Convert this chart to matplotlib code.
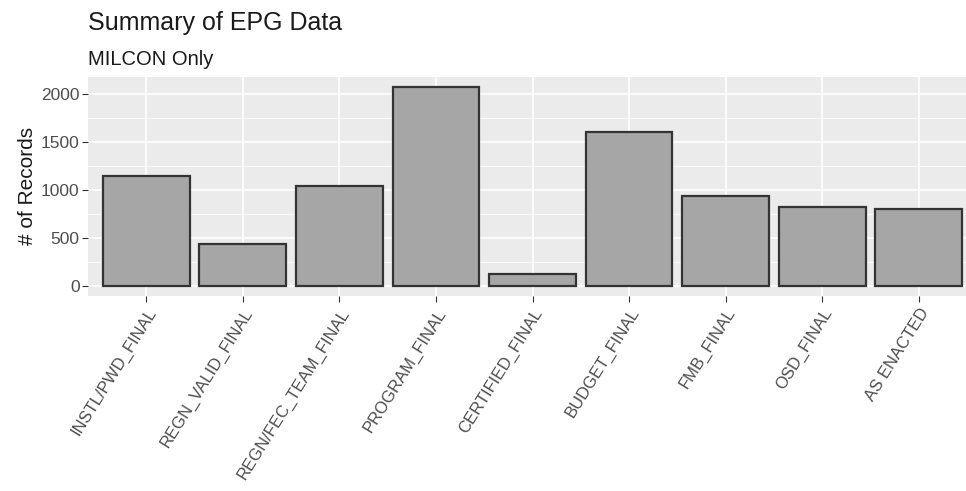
import numpy as np
import matplotlib
matplotlib.use("Agg")
import matplotlib.pyplot as plt
from matplotlib.ticker import MultipleLocator

# =============================================================================
# Data
# =============================================================================

stages = [
    "INSTL/PWD_FINAL",
    "REGN_VALID_FINAL",
    "REGN/FEC_TEAM_FINAL",
    "PROGRAM_FINAL",
    "CERTIFIED_FINAL",
    "BUDGET_FINAL",
    "FMB_FINAL",
    "OSD_FINAL",
    "AS ENACTED",
]
records = [1146, 440, 1042, 2076, 125, 1606, 937, 818, 797]

y_ticks = [0, 500, 1000, 1500, 2000]

# =============================================================================
# Plot
# =============================================================================

plt.rcParams["font.family"] = ["Liberation Sans", "DejaVu Sans"]

fig = plt.figure(figsize=(9.66, 4.91), dpi=100)
ax = fig.add_axes([0.0911, 0.397, 0.9089, 0.447])

x = np.arange(len(stages))
ax.set_facecolor("#EBEBEB")
ax.bar(x, records, width=0.9, color="#A6A6A6", edgecolor="#333333",
       linewidth=1.6, zorder=3)

ymax = max(records)
pad = 0.05 * ymax
ax.set_ylim(-pad, ymax + pad)
ax.set_xlim(-0.604, 8.49)

ax.set_yticks(y_ticks)
ax.yaxis.set_minor_locator(MultipleLocator(250))
ax.set_xticks(x)
ax.set_xticklabels(stages, rotation=58, ha="right", va="top",
                   rotation_mode="anchor", fontsize=12, color="#4D4D4D")
ax.tick_params(axis="y", labelsize=12.5, labelcolor="#4D4D4D", color="#333333",
               length=4, width=0.8, pad=2)
ax.tick_params(axis="x", color="#333333", length=4, width=0.8, pad=3)
ax.tick_params(axis="y", which="minor", length=0)

ax.grid(which="major", color="white", linewidth=1.2, zorder=0)
ax.grid(which="minor", axis="y", color="white", linewidth=0.6, zorder=0)
ax.set_axisbelow(True)
for spine in ax.spines.values():
    spine.set_visible(False)

ax.set_ylabel("# of Records", fontsize=15, color="#1A1A1A", labelpad=3)

fig.text(0.091, 1 - 30 / 491, "Summary of EPG Data", fontsize=18,
         color="#1A1A1A", va="baseline", ha="left")
fig.text(0.091, 1 - 65 / 491, "MILCON Only", fontsize=14.5,
         color="#1A1A1A", va="baseline", ha="left")

fig.savefig("out.png", dpi=100)
